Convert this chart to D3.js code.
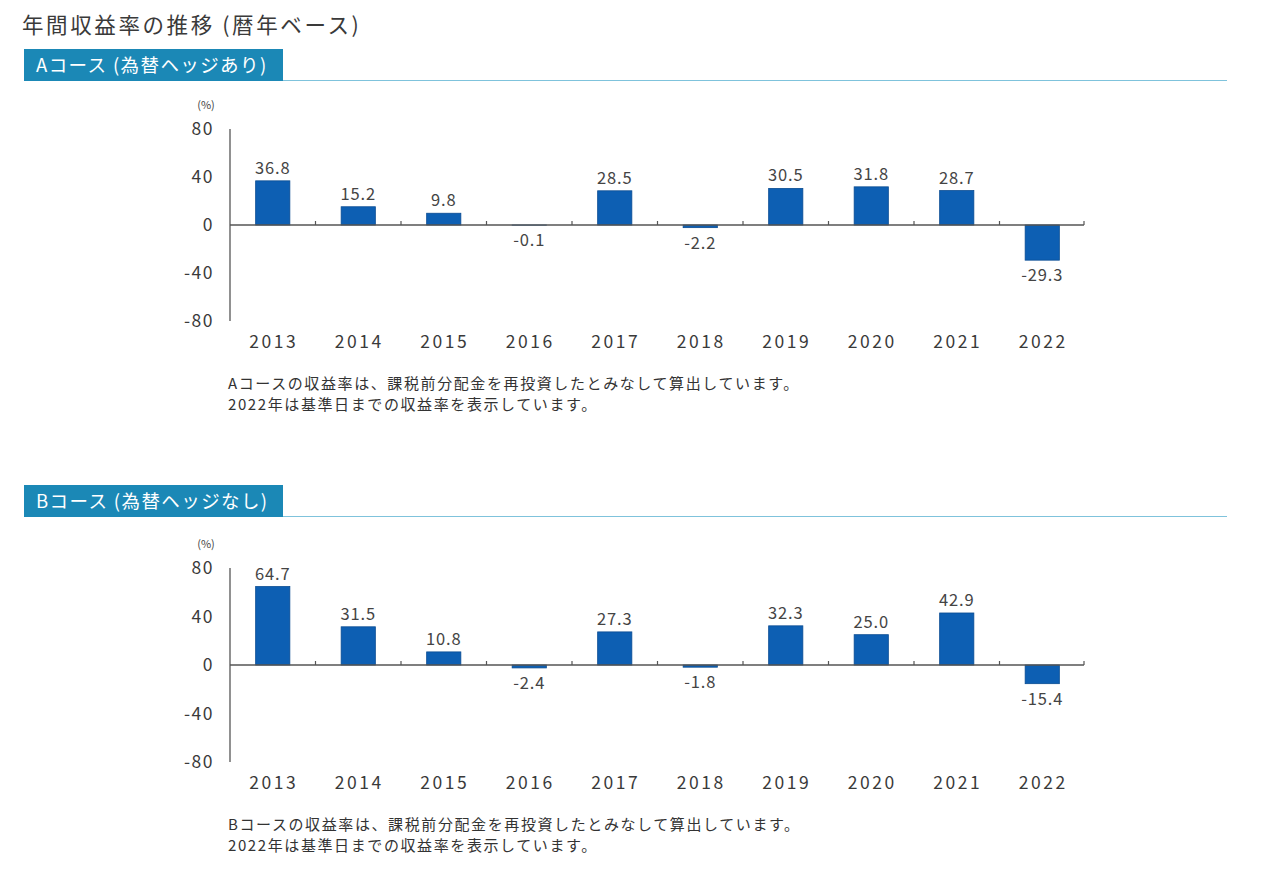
<!DOCTYPE html>
<html><head><meta charset="utf-8">
<script src="https://cdn.jsdelivr.net/npm/d3@7"></script>
<style>
body{margin:0;background:#fff;}
text{font-family:"Noto Sans CJK JP","Noto Sans",sans-serif;}
</style></head>
<body><svg id="c" width="1279" height="871"></svg>
<script>
const years = ["2013","2014","2015","2016","2017","2018","2019","2020","2021","2022"];
const courseA = [36.8,15.2,9.8,-0.1,28.5,-2.2,30.5,31.8,28.7,-29.3];
const courseB = [64.7,31.5,10.8,-2.4,27.3,-1.8,32.3,25.0,42.9,-15.4];
const yTicks = [80,40,0,-40,-80];
const title = "年間収益率の推移 (暦年ベース)";
const bannerA = "Aコース (為替ヘッジあり)";
const bannerB = "Bコース (為替ヘッジなし)";
const notesA = ["Aコースの収益率は、課税前分配金を再投資したとみなして算出しています。","2022年は基準日までの収益率を表示しています。"];
const notesB = ["Bコースの収益率は、課税前分配金を再投資したとみなして算出しています。","2022年は基準日までの収益率を表示しています。"];

const svg = d3.select("#c");
svg.append("text").attr("x",22).attr("y",33).attr("font-size",21.5).attr("letter-spacing",2.6).attr("fill","#3a3a3a").text(title);

function panel(top, zeroY, half, banner, values, notes){
  const g = svg.append("g");
  g.append("rect").attr("x",24).attr("y",top).attr("width",259).attr("height",32).attr("fill","#1b88b6");
  g.append("text").attr("x",36).attr("y",top+23).attr("font-size",18.5).attr("letter-spacing",1.4).attr("fill","#fff").text(banner);
  g.append("line").attr("x1",283).attr("x2",1227).attr("y1",top+31.5).attr("y2",top+31.5).attr("stroke","#7fc3dc").attr("stroke-width",1);

  const y = d3.scaleLinear().domain([-80,80]).range([zeroY+half, zeroY-half]);
  const x = d3.scaleBand().domain(years).range([230,1085]).paddingInner(0.6).paddingOuter(0.3);

  g.append("line").attr("x1",230).attr("x2",230).attr("y1",y(80)).attr("y2",y(-80)).attr("stroke","#555").attr("stroke-width",1.3);
  g.selectAll(".yt").data(yTicks).join("text")
    .attr("x",214).attr("y",d=>y(d)+6).attr("text-anchor","end").attr("font-size",17.5).attr("fill","#3a3a3a")
    .attr("letter-spacing",1.5).text(d=>d);
  g.append("text").attr("x",206).attr("y",y(80)-20).attr("text-anchor","middle").attr("font-size",11).attr("fill","#444").text("(%)");

  g.selectAll(".bar").data(values).join("rect")
    .attr("x",(d,i)=>x(years[i])).attr("width",x.bandwidth())
    .attr("y",d=>y(Math.max(0,d))).attr("height",d=>Math.abs(y(d)-y(0)))
    .attr("fill","#0d5fb3").attr("stroke","#0a4c92").attr("stroke-width",0.8);

  g.append("line").attr("x1",230).attr("x2",1084).attr("y1",y(0)).attr("y2",y(0)).attr("stroke","#555").attr("stroke-width",1.3);
  const edges = years.map((yr,i)=> i<9 ? (x(years[i])+x.bandwidth() + x(years[i+1]))/2 : 1084);
  g.selectAll(".tk").data(edges).join("line")
    .attr("x1",d=>d).attr("x2",d=>d).attr("y1",y(0)).attr("y2",y(0)-4).attr("stroke","#555").attr("stroke-width",1.2);

  g.selectAll(".vl").data(values).join("text")
    .attr("x",(d,i)=>x(years[i])+x.bandwidth()/2)
    .attr("y",d=> d>=0 ? y(d)-7 : y(d)+21)
    .attr("text-anchor","middle").attr("font-size",16.5).attr("letter-spacing",0.8).attr("fill","#444")
    .text(d=>d.toFixed(1));

  g.selectAll(".xl").data(years).join("text")
    .attr("x",d=>x(d)+x.bandwidth()/2+1).attr("y",y(-80)+27)
    .attr("text-anchor","middle").attr("font-size",17.5).attr("fill","#3a3a3a").attr("letter-spacing",2.6).text(d=>d);

  g.selectAll(".nt").data(notes).join("text")
    .attr("x",228).attr("y",(d,i)=>y(-80)+68+i*21).attr("font-size",15).attr("letter-spacing",1.6).attr("fill","#333").text(d=>d);
}
panel(49, 225, 96, bannerA, courseA, notesA);
panel(485, 665, 97, bannerB, courseB, notesB);
</script></body></html>
